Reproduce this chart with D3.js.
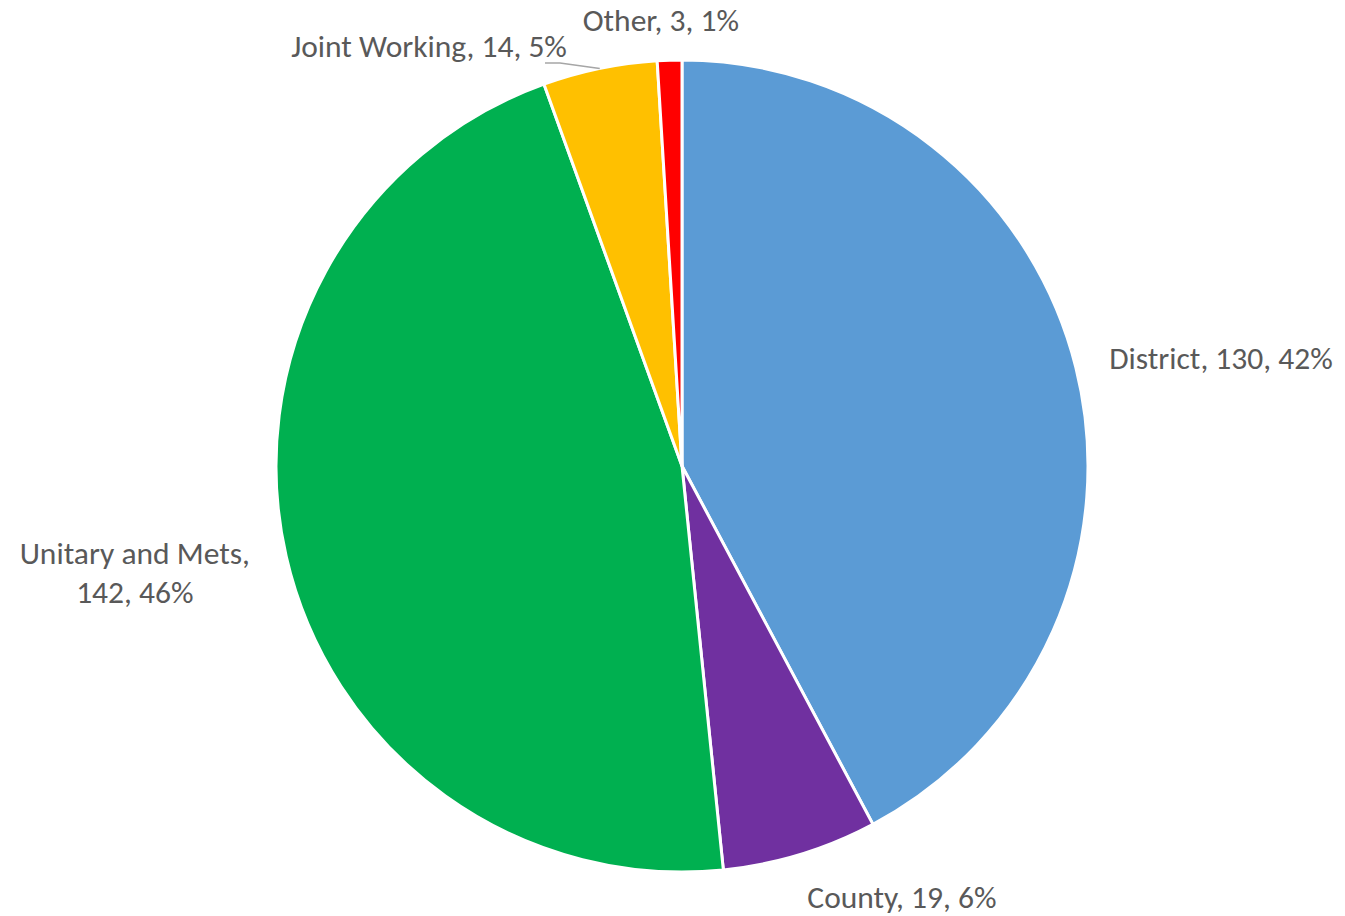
<!DOCTYPE html>
<html>
<head>
<meta charset="utf-8">
<script src="https://cdn.jsdelivr.net/npm/d3@7"></script>
<style>
  body { margin: 0; background: #fff; }
  text { font-family: Carlito, Lato, "Open Sans", sans-serif; fill: #595959; }
</style>
</head>
<body>
<svg id="chart" width="1345" height="916"></svg>
<script>
const categories = ['District', 'County', 'Unitary and Mets', 'Joint Working', 'Other'];
const values = [130, 19, 142, 14, 3];
const colors = ['#5B9BD5', '#7030A0', '#00B050', '#FFC000', '#FF0000'];

const width = 1345;
const height = 916;
const cx = 682;
const cy = 466;
const radius = 406;

const svg = d3.select('#chart');
const total = d3.sum(values);
const pieData = d3.pie().sort(null).value((d) => d.value)(
    categories.map((c, i) => ({ name: c, value: values[i], color: colors[i] }))
);

const arc = d3.arc().innerRadius(0).outerRadius(radius);
const g = svg.append('g').attr('transform', `translate(${cx},${cy})`);

g.selectAll('path')
    .data(pieData)
    .enter()
    .append('path')
    .attr('d', arc)
    .attr('fill', (d) => d.data.color)
    .attr('stroke', '#fff')
    .attr('stroke-width', 3)
    .attr('stroke-linejoin', 'round');

// label placement, tuned to where the original puts each one
const labelPos = {
    'District': { r: 430, dx: 10, dy: -4, anchor: 'start' },
    'County': { r: 430, dx: 0, dy: 20, anchor: 'start' },
    'Unitary and Mets': { r: 430, dx: -10, dy: 10, anchor: 'middle', shift: -118 },
    'Joint Working': { r: 430, dx: -28, dy: 1, anchor: 'end' },
    'Other': { r: 430, dx: -8, dy: -16, anchor: 'middle' },
};

const pct = (v) => Math.round((v / total) * 100) + '%';
const mid = (d) => (d.startAngle + d.endAngle) / 2;

pieData.forEach((d) => {
    const p = labelPos[d.data.name];
    const a = mid(d);
    let x = Math.sin(a) * p.r + p.dx + (p.shift || 0);
    const y = -Math.cos(a) * p.r + p.dy;
    const t = g.append('text')
        .attr('text-anchor', p.anchor)
        .attr('font-size', 31.5);
    if (d.data.name === 'Unitary and Mets') {
        t.append('tspan').attr('x', x).attr('y', y - 19).attr('dy', '0.35em').text(d.data.name + ',');
        t.append('tspan').attr('x', x).attr('y', y + 20).attr('dy', '0.35em').text(`${d.data.value}, ${pct(d.data.value)}`);
    } else {
        t.attr('x', x).attr('y', y).attr('dy', '0.35em')
            .text(`${d.data.name}, ${d.data.value}, ${pct(d.data.value)}`);
    }
});

// leader line for the small Joint Working slice
const jw = pieData[3];
const edge = [Math.sin(mid(jw)) * radius, -Math.cos(mid(jw)) * radius];
g.append('polyline')
    .attr('points', [[edge[0], edge[1]], [560 - cx, 63 - cy], [545 - cx, 63 - cy]].map((p) => p.join(',')).join(' '))
    .attr('fill', 'none')
    .attr('stroke', '#a6a6a6')
    .attr('stroke-width', 1.5);
</script>
</body>
</html>
